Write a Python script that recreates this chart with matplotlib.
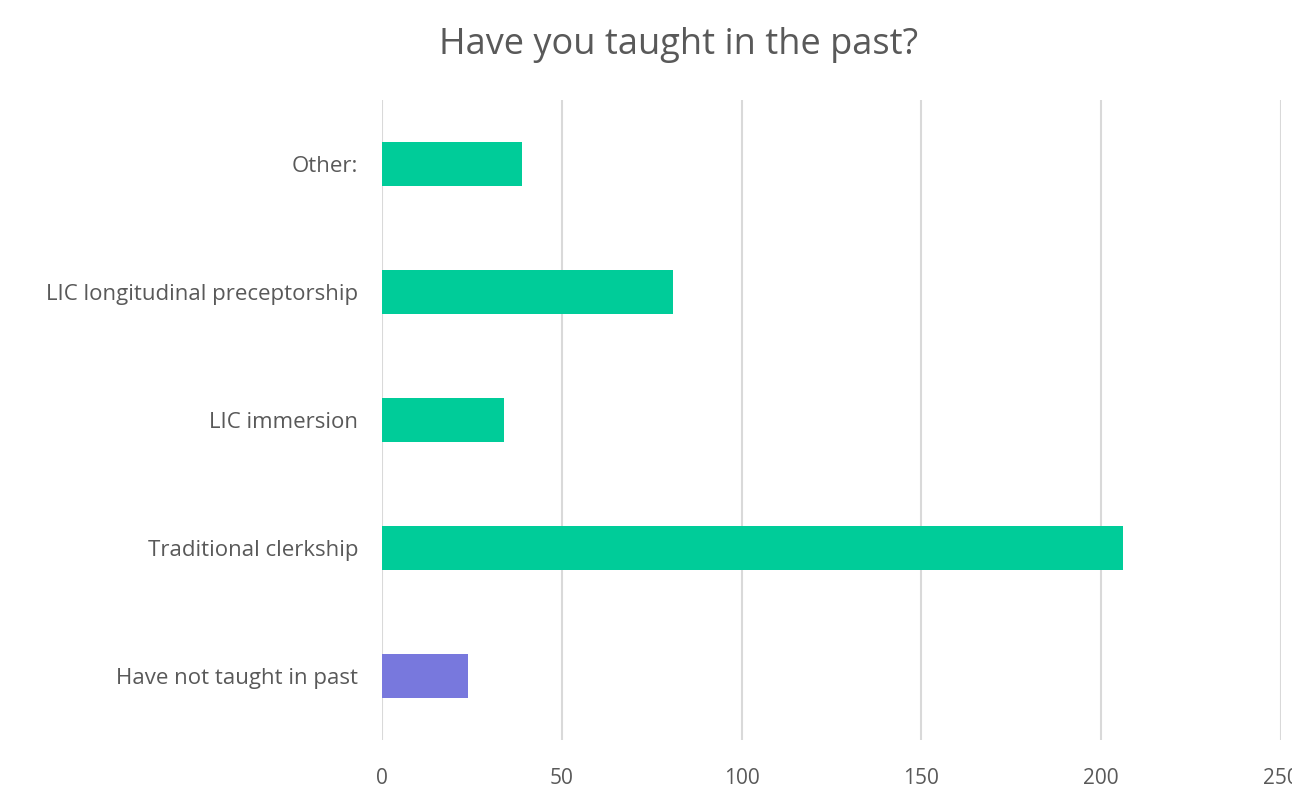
import matplotlib
matplotlib.use("Agg")
import matplotlib.pyplot as plt

categories = ["Have not taught in past", "Traditional clerkship", "LIC immersion",
              "LIC longitudinal preceptorship", "Other:"]
counts = [24, 206, 34, 81, 39]
bar_colors = ["#7878DD", "#00CC99", "#00CC99", "#00CC99", "#00CC99"]
xticks = [0, 50, 100, 150, 200, 250]

plt.rcParams['font.family'] = ['Open Sans', 'DejaVu Sans']
text_color = "#595959"

fig = plt.figure(figsize=(12.92, 7.96), dpi=100)
ax = fig.add_axes([0.2957, 0.0704, 0.6958, 0.804])

ax.barh(range(len(categories)), counts, height=0.35, color=bar_colors, zorder=3)

ax.set_xlim(0, 250)
ax.set_ylim(-0.5, len(categories) - 0.5)
ax.set_xticks(xticks)
ax.set_yticks(range(len(categories)))
ax.set_yticklabels(categories, fontsize=16)
ax.grid(axis="x", color="#D9D9D9", linewidth=1.5, zorder=0)
ax.tick_params(length=0, labelcolor=text_color)
ax.tick_params(axis="x", pad=20, labelsize=15)
ax.tick_params(axis="y", pad=17)
for s in ax.spines.values():
    s.set_visible(False)

fig.text(0.525, 0.943, "Have you taught in the past?", fontsize=26, color=text_color,
         ha="center", va="center")

fig.savefig("out.png", dpi=100)
